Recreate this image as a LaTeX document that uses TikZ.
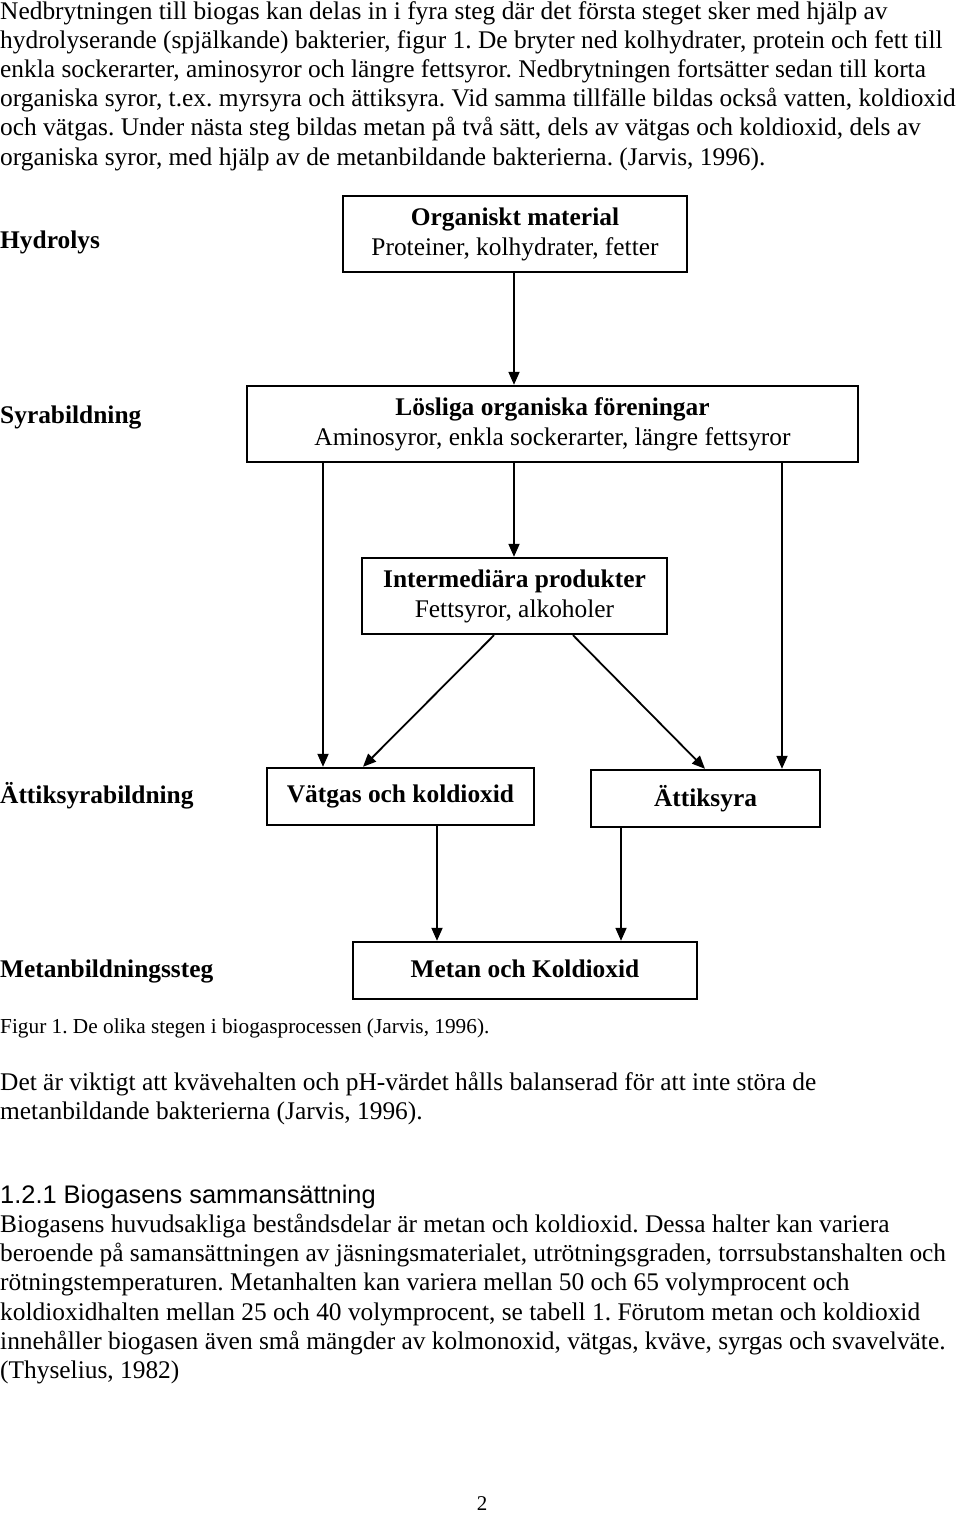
\documentclass[tikz,border=0pt]{standalone}
\usepackage{fontspec}
\setmainfont{Liberation Serif}
\newfontfamily\arialfont{Liberation Sans}
\usetikzlibrary{arrows.meta}
\begin{document}
\frenchspacing
\begin{tikzpicture}[x=1pt,y=-1pt,
  txt/.style={anchor=base west, inner sep=0pt, font=\fontsize{25.4}{29}\selectfont},
  lbl/.style={anchor=base west, inner sep=0pt, font=\fontsize{25.4}{29}\selectfont\bfseries},
  captxt/.style={anchor=base west, inner sep=0pt, font=\fontsize{21.3}{25}\selectfont},
  head/.style={anchor=base west, inner sep=0pt, font=\fontsize{25.4}{29}\arialfont\selectfont},
  box/.style={draw, line width=2.4pt, rectangle, inner sep=0pt, align=center,
    font=\fontsize{25.4}{30}\selectfont},
  arr/.style={line width=1.8pt, -{Triangle[length=13pt,width=11pt]}}]
\useasboundingbox (0,0) rectangle (960,1521);
\fill[white] (0,0) rectangle (960,1521);
% top paragraph
\node[txt] (p1) at (0,19) {Nedbrytningen till biogas kan delas in i fyra steg där det första steget sker med hjälp av};
\node[txt] (p2) at (0,48.2) {hydrolyserande (spjälkande) bakterier, figur 1. De bryter ned kolhydrater, protein och fett till};
\node[txt] (p3) at (0,77.4) {enkla sockerarter, aminosyror och längre fettsyror. Nedbrytningen fortsätter sedan till korta};
\node[txt] (p4) at (0,106.6) {organiska syror, t.ex. myrsyra och ättiksyra. Vid samma tillfälle bildas också vatten, koldioxid};
\node[txt] (p5) at (0,135.8) {och vätgas. Under nästa steg bildas metan på två sätt, dels av vätgas och koldioxid, dels av};
\node[txt] (p6) at (0,165) {organiska syror, med hjälp av de metanbildande bakterierna. (Jarvis, 1996).};
% stage labels
\node[lbl] (l1) at (0,248) {Hydrolys};
\node[lbl] (l2) at (0,423) {Syrabildning};
\node[lbl] (l3) at (0,803) {Ättiksyrabildning};
\node[lbl] (l4) at (0,977) {Metanbildningssteg};
% boxes
\node[box, minimum width=344pt, minimum height=76pt] (B1) at (515,234)
  {\textbf{Organiskt material}\\Proteiner, kolhydrater, fetter};
\node[box, minimum width=611pt, minimum height=76pt] (B2) at (552.5,424)
  {\textbf{Lösliga organiska föreningar}\\Aminosyror, enkla sockerarter, längre fettsyror};
\node[box, minimum width=305pt, minimum height=76pt] (B3) at (514.5,596)
  {\textbf{Intermediära produkter}\\Fettsyror, alkoholer};
\node[box, minimum width=267pt, minimum height=57pt] (B4) at (400.5,796.5)
  {\raisebox{3pt}{\textbf{Vätgas och koldioxid}}};
\node[box, minimum width=229pt, minimum height=57pt] (B5) at (705.5,798.5)
  {\raisebox{2pt}{\textbf{Ättiksyra}}};
\node[box, minimum width=344pt, minimum height=57pt] (B6) at (525,970.5)
  {\raisebox{4pt}{\textbf{Metan och Koldioxid}}};
% arrows
\draw[arr] (B1.south -| 514,0) -- (B2.north -| 514,0);
\draw[arr] (B2.south -| 323,0) -- (B4.north -| 323,0);
\draw[arr] (B2.south -| 514,0) -- (B3.north -| 514,0);
\draw[arr] (B2.south -| 782,0) -- (B5.north -| 782,0);
\draw[arr] (B3.south -| 494,0) -- (B4.north -| 363,0);
\draw[arr] (B3.south -| 573,0) -- (B5.north -| 705,0);
\draw[arr] (B4.south -| 437,0) -- (B6.north -| 437,0);
\draw[arr] (B5.south -| 621,0) -- (B6.north -| 621,0);
% caption and following text
\node[captxt] (c1) at (0,1033) {Figur 1. De olika stegen i biogasprocessen (Jarvis, 1996).};
\node[txt] (q1) at (0,1090) {Det är viktigt att kvävehalten och pH-värdet hålls balanserad för att inte störa de};
\node[txt] (q2) at (0,1119) {metanbildande bakterierna (Jarvis, 1996).};
\node[head] (h1) at (0,1203) {1.2.1 Biogasens sammansättning};
\node[txt] (r1) at (0,1232) {Biogasens huvudsakliga beståndsdelar är metan och koldioxid. Dessa halter kan variera};
\node[txt] (r2) at (0,1261) {beroende på samansättningen av jäsningsmaterialet, utrötningsgraden, torrsubstanshalten och};
\node[txt] (r3) at (0,1290) {rötningstemperaturen. Metanhalten kan variera mellan 50 och 65 volymprocent och};
\node[txt] (r4) at (0,1320) {koldioxidhalten mellan 25 och 40 volymprocent, se tabell 1. Förutom metan och koldioxid};
\node[txt] (r5) at (0,1349) {innehåller biogasen även små mängder av kolmonoxid, vätgas, kväve, syrgas och svavelväte.};
\node[txt] (r6) at (0,1378) {(Thyselius, 1982)};
\node[anchor=base, inner sep=0pt, font=\fontsize{21}{25}\selectfont] (pg) at (482,1510) {2};
\end{tikzpicture}
\end{document}
